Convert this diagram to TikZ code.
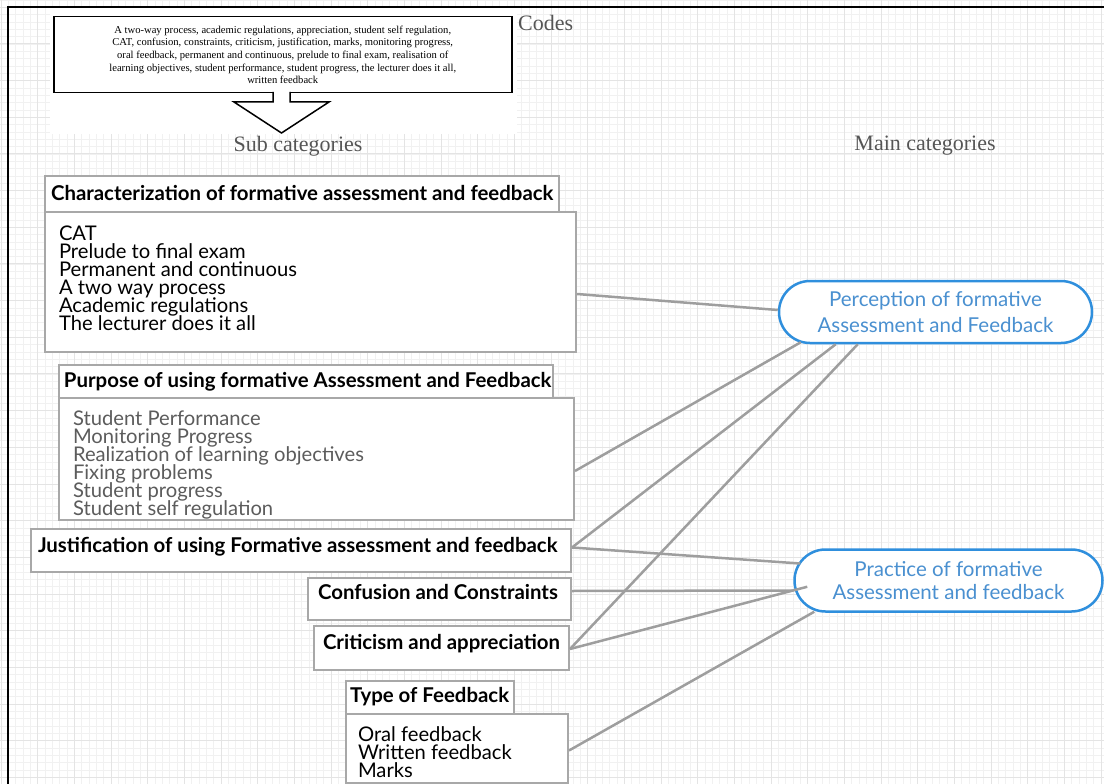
\documentclass[tikz,border=0pt]{standalone}
\usepackage{fontspec}
\setmainfont{Liberation Serif}
\newfontfamily\lato{Lato}
\definecolor{boxgray}{HTML}{A8A8A8}
\definecolor{linegray}{HTML}{9E9E9E}
\definecolor{pillblue}{HTML}{2F8FDD}
\definecolor{textblue}{HTML}{4A90D0}
\definecolor{capgray}{HTML}{555555}
\definecolor{bodygray}{HTML}{5C5C5C}
\definecolor{gminorc}{HTML}{F1F1F1}
\definecolor{gmajorc}{HTML}{E4E4E4}
\newcommand{\bxc}[5]{\parbox[c][#2pt][t]{#1pt}{\lineskiplimit=-50pt\lineskip=0pt\relax\vspace*{#4pt}\raggedright\leftskip=#3pt\relax #5\par}}
\tikzset{
  sbox/.style={draw=boxgray, line width=2pt, fill=white, inner sep=0pt, anchor=north west,
    font=\lato\fontsize{20.2}{18}\selectfont},
  hbox/.style={sbox, font=\lato\bfseries\fontsize{20.4}{18}\selectfont},
  pill/.style={draw=pillblue, line width=2.5pt, fill=white, rounded corners=31pt, inner sep=0pt,
    align=center, text=textblue},
  conn/.style={draw=linegray, line width=2.5pt},
  captext/.style={text=capgray, font=\fontsize{22}{24}\selectfont, inner sep=0pt},
  gminor/.style={draw=gminorc, line width=0.9pt},
  gmajor/.style={draw=gmajorc, line width=1pt},
}
\begin{document}
\begin{tikzpicture}[x=1pt,y=-1pt]
\useasboundingbox (0,0) rectangle (1104,784);
% grid
\foreach \k in {0,...,151} {\draw[gminor] (1+\k*7.3333,0) -- (1+\k*7.3333,784);}
\foreach \k in {0,...,107} {\draw[gminor] (0,\k*7.3333) -- (1104,\k*7.3333);}
\foreach \k in {0,...,30} {\draw[gmajor] (1+\k*36.6667,0) -- (1+\k*36.6667,784);}
\foreach \k in {0,...,21} {\draw[gmajor] (0,7.33+\k*36.6667) -- (1104,7.33+\k*36.6667);}
\fill[white] (50,8) rectangle (517,134);
% frame
\draw[black, line width=2.2pt] (8,784) -- (8,7) -- (1104,7);
% codes
\node[draw=black, line width=1.5pt, fill=white, anchor=north west, minimum width=458pt, minimum height=76pt,
  inner sep=0pt, align=center, font=\fontsize{10.6}{12.6}\selectfont] (codes) at (53,16)
  {A two-way process, academic regulations, appreciation, student self regulation,\\
   CAT, confusion, constraints, criticism, justification, marks, monitoring progress,\\
   oral feedback, permanent and continuous, prelude to final exam, realisation of\\
   learning objectives, student performance, student progress, the lecturer does it all,\\
   written feedback};
\filldraw[fill=white, draw=black, line width=1.5pt] (273,92) -- (273,102) -- (234,102) -- (281.5,133)
  -- (329,102) -- (290,102) -- (290,92);
\node[captext, anchor=west] (codeslbl) at (518,23) {Codes};
\node[captext] (sublbl) at (298,146) {Sub categories};
\node[captext] (mainlbl) at (925,146) {Main categories};
% sub categories
\node[hbox] (chH) at (44,175) {\bxc{514}{36}{6}{9.8}{\mbox{Characterization of formative assessment and feedback}}};
\node[sbox] (chB) at (44,211) {\bxc{531}{140}{14}{13.5}{CAT\\Prelude to final exam\\Permanent and continuous\\A two way process\\Academic regulations\\The lecturer does it all}};
\node[hbox] (puH) at (58,364) {\bxc{494}{33}{5}{7.8}{\mbox{Purpose of using formative Assessment and Feedback}}};
\node[sbox, text=bodygray] (puB) at (58,397) {\bxc{515}{122}{14}{12.5}{Student Performance\\Monitoring Progress\\Realization of learning objectives\\Fixing problems\\Student progress\\Student self regulation}};
\node[hbox] (jus) at (30,528) {\bxc{540}{43}{7}{8.5}{\mbox{Justification of using Formative assessment and feedback}}};
\node[hbox] (conf) at (307,577) {\bxc{263}{42}{10}{6.5}{\mbox{Confusion and Constraints}}};
\node[hbox] (crit) at (313,625) {\bxc{255}{44}{9}{8}{\mbox{Criticism and appreciation}}};
\node[hbox] (tyH) at (345,680) {\bxc{168}{33}{4}{6.5}{\mbox{Type of Feedback}}};
\node[sbox] (tyB) at (345,713) {\bxc{222}{69}{12}{13}{Oral feedback\\Written feedback\\Marks}};
% main categories
\node[pill, minimum width=313pt, minimum height=62pt, font=\lato\fontsize{20.5}{26}\selectfont] (perc) at (935.5,312)
  {Perception of formative\\Assessment and Feedback};
\node[pill, minimum width=308pt, minimum height=62pt, font=\lato\fontsize{20.5}{23}\selectfont] (prac) at (948.5,580.5)
  {Practice of formative\\Assessment and feedback};
% connectors
\draw[conn] ([yshift=-12pt]chB.east) -- ([yshift=2pt]perc.west);
\draw[conn] ([yshift=-12pt]puB.east) -- ([xshift=23pt,yshift=2pt]perc.south west);
\draw[conn] ([yshift=3pt]jus.east) -- ([xshift=58pt]perc.south west);
\draw[conn] ([yshift=-1pt]crit.east) -- ([xshift=80pt]perc.south west);
\draw[conn] ([yshift=3pt]jus.east) -- ([xshift=7pt,yshift=17pt]prac.west);
\draw[conn] ([yshift=8pt]conf.east) -- ([yshift=-10pt]prac.west);
\draw[conn] ([yshift=-1pt]crit.east) -- ([xshift=14pt,yshift=26pt]prac.south west);
\draw[conn] ([yshift=-2pt]tyB.east) -- ([xshift=21pt,yshift=1pt]prac.south west);
\end{tikzpicture}
\end{document}
